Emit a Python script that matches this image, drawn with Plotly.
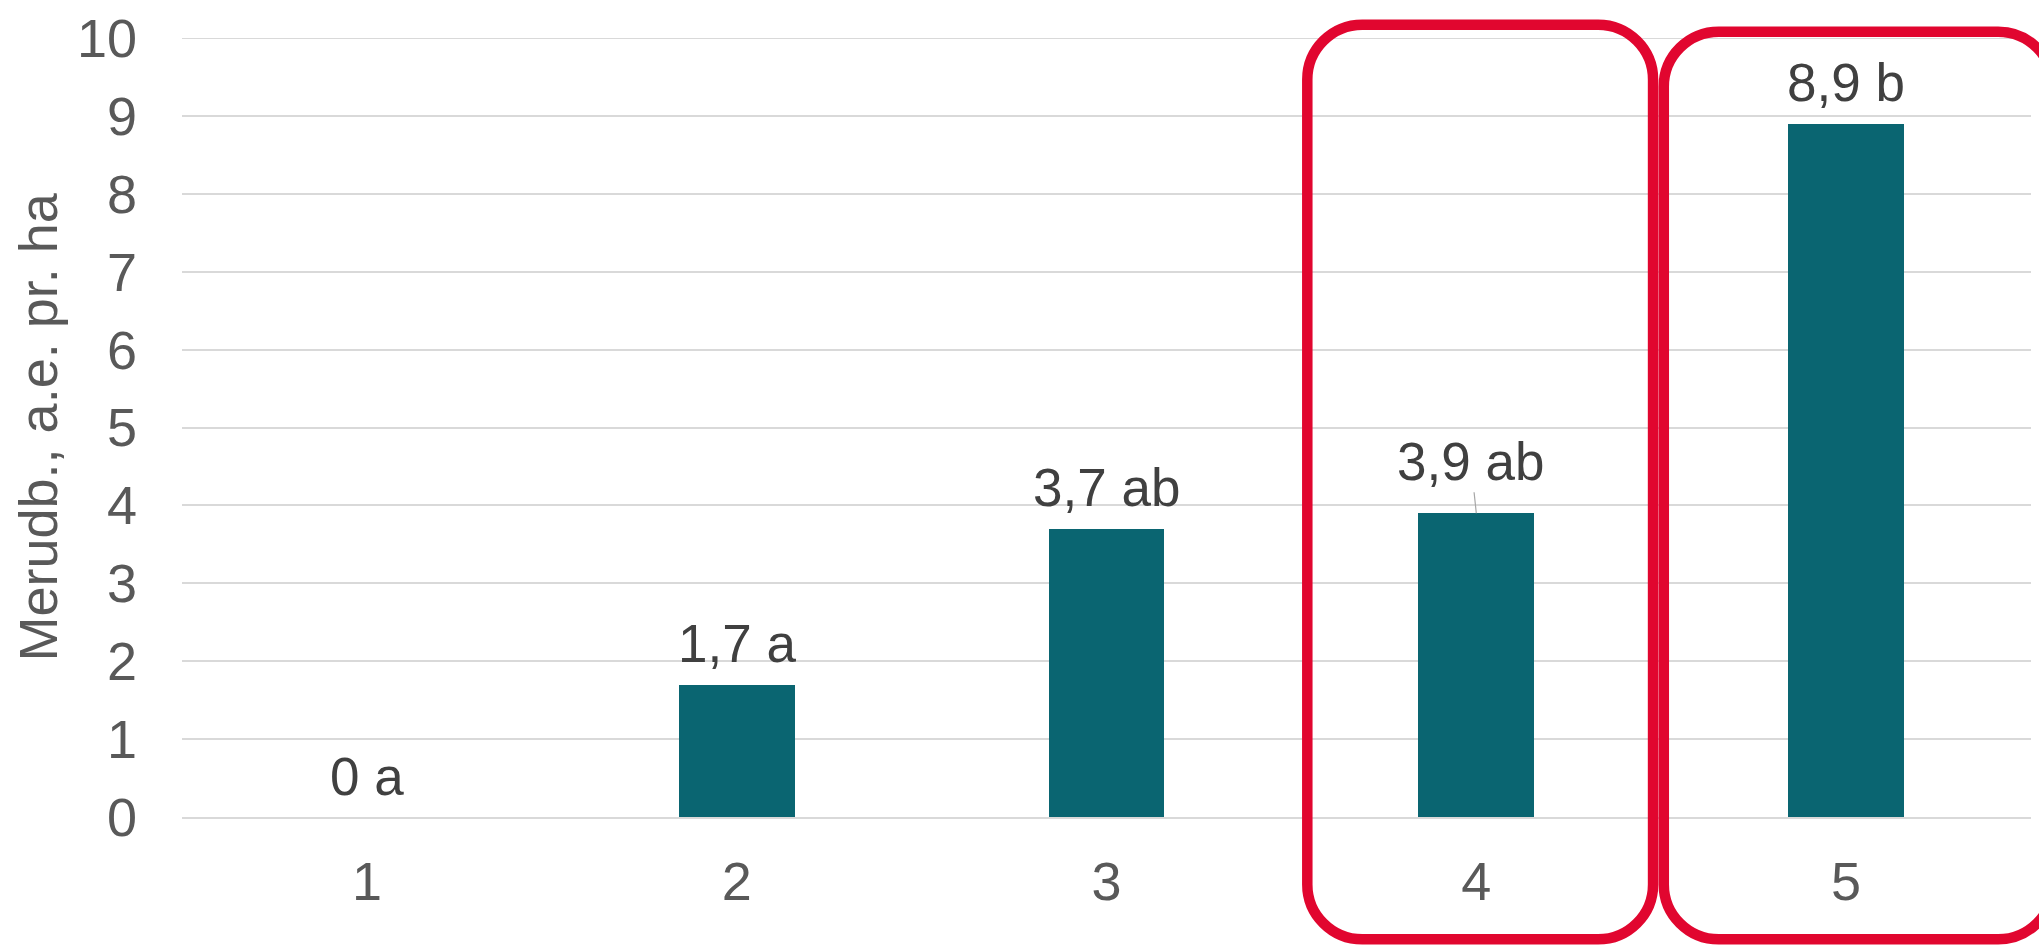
import plotly.graph_objects as go

# Treatment groups and measured values
groups = [1, 2, 3, 4, 5]
values = [0.0, 1.7, 3.7, 3.9, 8.9]
letters = ["a", "a", "ab", "ab", "b"]
y_ticks = list(range(0, 11))

# Groups highlighted with a rounded frame
framed_groups = [4, 5]

BAR_COLOR = "#0A6571"
FRAME_COLOR = "#E1062F"
GRID_COLOR = "#D9D9D9"
TICK_COLOR = "#595959"
LABEL_COLOR = "#404040"
FONT = "Liberation Sans, Arial, sans-serif"

W, H = 2039, 945
M_L, M_R, M_T, M_B = 182, 8, 36, 128
X_RANGE = [0.5, 5.5]
Y_RANGE = [0, 10]
PLOT_W = W - M_L - M_R
PLOT_H = H - M_T - M_B


def fmt(v):
    s = f"{v:.1f}".replace(".", ",")
    return "0" if v == 0 else s


def xp(v):
    return (v - X_RANGE[0]) / (X_RANGE[1] - X_RANGE[0])


def yp(v):
    return (v - Y_RANGE[0]) / (Y_RANGE[1] - Y_RANGE[0])


def rounded_rect(x0, x1, y0, y1, r_px):
    """Rounded rectangle path in paper coordinates (x0<x1, y0<y1)."""
    rx = r_px / PLOT_W
    ry = r_px / PLOT_H
    k = 0.5523
    return (
        f"M {x0 + rx},{y1} L {x1 - rx},{y1} "
        f"C {x1 - rx + k * rx},{y1} {x1},{y1 - ry + k * ry} {x1},{y1 - ry} "
        f"L {x1},{y0 + ry} "
        f"C {x1},{y0 + ry - k * ry} {x1 - rx + k * rx},{y0} {x1 - rx},{y0} "
        f"L {x0 + rx},{y0} "
        f"C {x0 + rx - k * rx},{y0} {x0},{y0 + ry - k * ry} {x0},{y0 + ry} "
        f"L {x0},{y1 - ry} "
        f"C {x0},{y1 - ry + k * ry} {x0 + rx - k * rx},{y1} {x0 + rx},{y1} Z"
    )


fig = go.Figure()
fig.add_trace(
    go.Bar(
        x=groups,
        y=values,
        width=0.3127,
        marker=dict(color=BAR_COLOR, line=dict(width=0)),
        hoverinfo="skip",
    )
)

annotations = []
for g, v, let in zip(groups, values, letters):
    text = f"{fmt(v)} {let}"
    if g == 4:
        annotations.append(
            dict(
                x=g, y=v, xref="x", yref="y", text=text,
                showarrow=True, arrowhead=0, arrowwidth=1.2,
                arrowcolor="#A6A6A6", ax=-5.5, ay=-52, standoff=0,
                font=dict(family=FONT, size=53, color=LABEL_COLOR),
            )
        )
    else:
        annotations.append(
            dict(
                x=g, y=v, xref="x", yref="y", text=text,
                showarrow=False, yanchor="middle", yshift=41,
                font=dict(family=FONT, size=53, color=LABEL_COLOR),
            )
        )

# Axis title
annotations.append(
    dict(
        x=-(M_L - 37) / PLOT_W, y=0.5, xref="paper", yref="paper",
        text="Merudb., a.e. pr. ha", textangle=-90, showarrow=False,
        xanchor="center", yanchor="middle",
        font=dict(family=FONT, size=54, color=TICK_COLOR),
    )
)

shapes = []
# Top gridline (the axis range ends exactly on it)
shapes.append(
    dict(
        type="line", xref="paper", yref="y", x0=0, x1=1,
        y0=y_ticks[-1], y1=y_ticks[-1], layer="below",
        line=dict(color=GRID_COLOR, width=2),
    )
)

# Rounded frames around highlighted groups
frame_spec = {
    4: dict(left=-0.457, right=0.478, bottom=-1.57, top=10.17),
    5: dict(left=-0.493, right=0.56, bottom=-1.57, top=10.08),
}
for g in framed_groups:
    s = frame_spec[g]
    shapes.append(
        dict(
            type="path", xref="paper", yref="paper", layer="above",
            path=rounded_rect(xp(g + s["left"]), xp(g + s["right"]),
                              yp(s["bottom"]), yp(s["top"]), 55),
            line=dict(color=FRAME_COLOR, width=10.5),
            fillcolor="rgba(0,0,0,0)",
        )
    )

fig.update_layout(
    width=W, height=H,
    margin=dict(l=M_L, r=M_R, t=M_T, b=M_B, pad=0),
    paper_bgcolor="white", plot_bgcolor="white",
    showlegend=False,
    bargap=0,
    annotations=annotations,
    shapes=shapes,
    xaxis=dict(
        range=X_RANGE, tickmode="array", tickvals=groups,
        ticktext=[str(g) for g in groups],
        showgrid=False, zeroline=False,
        showline=True, linecolor=GRID_COLOR, linewidth=2,
        ticks="", ticklabelstandoff=16,
        tickfont=dict(family=FONT, size=54, color=TICK_COLOR),
        fixedrange=True,
    ),
    yaxis=dict(
        range=Y_RANGE, tickmode="array", tickvals=y_ticks,
        showgrid=True, gridcolor=GRID_COLOR, gridwidth=2,
        zeroline=False, showline=False,
        ticks="", ticklabelstandoff=44,
        tickfont=dict(family=FONT, size=54, color=TICK_COLOR),
        fixedrange=True,
    ),
)

fig.write_html("out.html", include_plotlyjs=True, config={"displayModeBar": False})
